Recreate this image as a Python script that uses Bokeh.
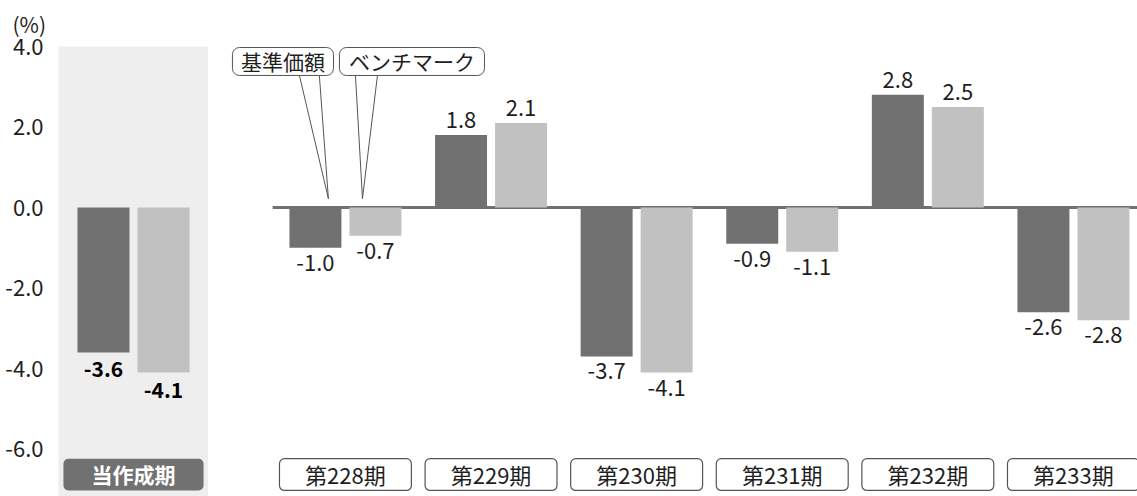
from bokeh.plotting import figure
from bokeh.models import Range1d, FactorRange, FixedTicker, NumeralTickFormatter, ColumnDataSource
from bokeh.layouts import row
from bokeh.transform import dodge
from bokeh.core.properties import value
from bokeh.embed import file_html
from bokeh.resources import INLINE

# ---------------- data ----------------
periods = ["第228期", "第229期", "第230期", "第231期", "第232期", "第233期"]
nav_returns = [-1.0, 1.8, -3.7, -0.9, 2.8, -2.6]       # 基準価額
bench_returns = [-0.7, 2.1, -4.1, -1.1, 2.5, -2.8]     # ベンチマーク
total_label = "当作成期"
total_nav = [-3.6]
total_bench = [-4.1]
series_names = ["基準価額", "ベンチマーク"]
y_ticks = [-6, -4, -2, 0, 2, 4]
unit_label = "(%)"

# ---------------- style ----------------
DARK = "#717171"
LIGHT = "#c1c1c1"
PANEL = "#eeeeee"
TXT = "#1e1e1e"
EDGE = "#555555"
FONT = "Noto Sans CJK JP"
H = 496
TOP = 46
BAR_W_B = 0.357
OFF_B = 0.206
BADGE_TOP, BADGE_BOT, BADGE_MID = -6.24, -7.03, -6.63

y_range = Range1d(-7.18, 4.0)


def fmt(v):
    return f"{v:.1f}"


def label_cols(vals, up, down):
    return [fmt(v) for v in vals], [(-up if v >= 0 else down) for v in vals]


# ---------------- left panel: 当作成期 ----------------
pa = figure(width=208, height=H, x_range=FactorRange(factors=[total_label], range_padding=0),
            y_range=y_range, x_axis_location=None, toolbar_location=None,
            output_backend="svg", min_border_left=58, min_border_right=0,
            min_border_top=TOP, min_border_bottom=0)
pa.background_fill_color = PANEL
pa.border_fill_color = "white"
pa.outline_line_color = None
pa.grid.visible = False
ya = pa.yaxis[0]
ya.ticker = FixedTicker(ticks=y_ticks)
ya.formatter = NumeralTickFormatter(format="0.0")
ya.axis_line_color = None
ya.major_tick_line_color = None
ya.minor_tick_line_color = None
ya.major_label_text_font = FONT
ya.major_label_text_font_size = "22px"
ya.major_label_text_color = TXT
ya.major_label_standoff = 9

pa.title.text = unit_label
pa.title.text_font = FONT
pa.title.text_font_size = "21px"
pa.title.text_font_style = "normal"
pa.title.text_color = TXT
pa.title.align = "left"
pa.title.vertical_align = "top"
pa.title.offset = -46
pa.title.standoff = 12

tn_lbl, tn_off = label_cols(total_nav, 17, 17)
tb_lbl, tb_off = label_cols(total_bench, 17, 17)
src_a = ColumnDataSource(dict(x=[total_label], nav=total_nav, bench=total_bench,
                              nav_lbl=tn_lbl, nav_off=tn_off, bench_lbl=tb_lbl, bench_off=tb_off))
pa.vbar(x=dodge("x", -0.2, range=pa.x_range), top="nav", width=0.347, source=src_a,
        fill_color=DARK, line_color=None)
pa.vbar(x=dodge("x", 0.2, range=pa.x_range), top="bench", width=0.347, source=src_a,
        fill_color=LIGHT, line_color=None)
pa.text(x=dodge("x", -0.2, range=pa.x_range), y="nav", text="nav_lbl", y_offset="nav_off",
        source=src_a, text_align="center", text_baseline="middle", text_font=value(FONT),
        text_font_size="21px", text_font_style="bold", text_color="black")
pa.text(x=dodge("x", 0.2, range=pa.x_range), y="bench", text="bench_lbl", y_offset="bench_off",
        source=src_a, text_align="center", text_baseline="middle", text_font=value(FONT),
        text_font_size="21px", text_font_style="bold", text_color="black")
# category badge
pa.quad(left=dodge("x", -0.467, range=pa.x_range), right=dodge("x", 0.467, range=pa.x_range),
        top=BADGE_TOP, bottom=BADGE_BOT, source=src_a, fill_color=DARK, line_color=None,
        border_radius=5)
pa.text(x="x", y=BADGE_MID, text=value(total_label), source=src_a, text_align="center",
        text_baseline="middle", text_font=value(FONT), text_font_size="21px",
        text_font_style="bold", text_color="white")

# ---------------- right panel: periods ----------------
pb = figure(width=929, height=H, x_range=Range1d(-0.913, 5.44), y_range=y_range,
            x_axis_location=None, y_axis_location=None, toolbar_location=None,
            output_backend="svg", min_border_left=4, min_border_right=0,
            min_border_top=TOP, min_border_bottom=0)
pb.background_fill_color = "white"
pb.border_fill_color = "white"
pb.outline_line_color = None
pb.grid.visible = False

idx = list(range(len(periods)))
n_lbl, n_off = label_cols(nav_returns, 15, 15)
b_lbl, b_off = label_cols(bench_returns, 15, 15)
src_b = ColumnDataSource(dict(x=idx, period=periods, nav=nav_returns, bench=bench_returns,
                              nav_lbl=n_lbl, nav_off=n_off, bench_lbl=b_lbl, bench_off=b_off))

# zero line
pb.segment(x0=[idx[0] - 0.5], x1=[pb.x_range.end], y0=[0], y1=[0], line_color=DARK, line_width=3)

pb.vbar(x=dodge("x", -OFF_B), top="nav", width=BAR_W_B, source=src_b, fill_color=DARK, line_color=None)
pb.vbar(x=dodge("x", OFF_B), top="bench", width=BAR_W_B, source=src_b, fill_color=LIGHT, line_color=None)
for col, off, dx in (("nav_lbl", "nav_off", -OFF_B), ("bench_lbl", "bench_off", OFF_B)):
    pb.text(x=dodge("x", dx), y=col.replace("_lbl", ""), text=col, y_offset=off, source=src_b,
            text_align="center", text_baseline="middle", text_font=value(FONT),
            text_font_size="22px", text_color=TXT)

# period badges
pb.quad(left=dodge("x", -0.453), right=dodge("x", 0.453), top=BADGE_TOP, bottom=BADGE_BOT,
        source=src_b, fill_color="white", line_color=EDGE, line_width=1.2, border_radius=5)
pb.text(x="x", y=BADGE_MID, text="period", source=src_b, text_align="center",
        text_baseline="middle", text_font=value(FONT), text_font_size="22px", text_color=TXT)

# callouts (series legend)
callouts = [
    # name, box left/right, pointer base x (2), tip x
    (series_names[0], -0.776, -0.082, -0.316, -0.179, -0.117),
    (series_names[1], -0.041, 0.955, 0.069, 0.220, 0.117),
]
box_top, box_bot, tip_y = 3.975, 3.28, 0.22
for name, l, r, b0, b1, tip in callouts:
    pb.patch(x=[b0, tip, b1], y=[box_bot, tip_y, box_bot], fill_color="white",
             line_color=EDGE, line_width=1)
    pb.quad(left=[l], right=[r], top=[box_top], bottom=[box_bot], fill_color="white",
            line_color=EDGE, line_width=1, border_radius=7)
    pb.text(x=[(l + r) / 2], y=[(box_top + box_bot) / 2], text=[name], text_align="center",
            text_baseline="middle", text_font=value(FONT), text_font_size="21px", text_color=TXT)

layout = row(pa, pb)
open("out.html", "w").write(file_html(layout, INLINE))
